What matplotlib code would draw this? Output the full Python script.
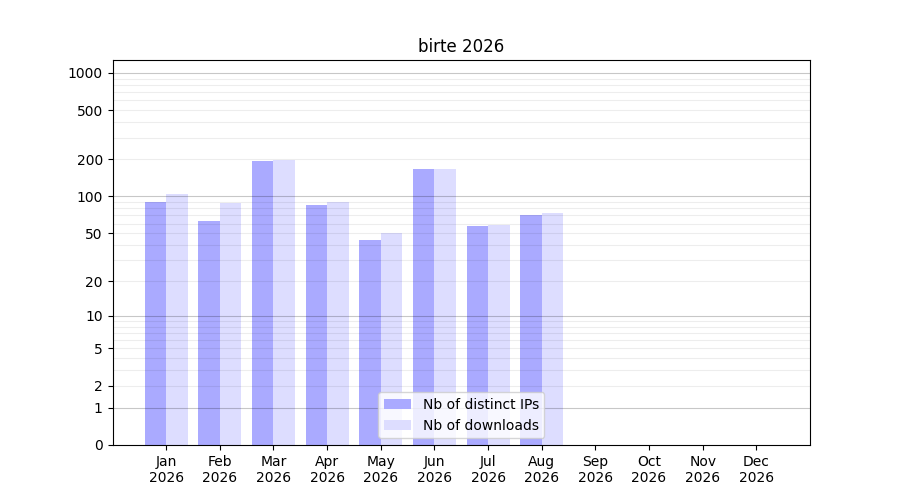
import numpy as np
import matplotlib
matplotlib.use("Agg")
import matplotlib.pyplot as plt

months = ["Jan", "Feb", "Mar", "Apr", "May", "Jun", "Jul", "Aug", "Sep", "Oct", "Nov", "Dec"]
year = "2026"
distinct_ips = [90, 63, 195, 85, 44, 168, 57, 70]
downloads = [105, 88, 198, 90, 50, 168, 58, 73]
ytick_values = [0, 1, 2, 5, 10, 20, 50, 100, 200, 500, 1000]


def fwd(v):
    return np.log10(1 + np.clip(v, 0, None))


def inv(v):
    return 10 ** v - 1


fig, ax = plt.subplots(figsize=(9, 5), dpi=100)
ax.set_yscale("function", functions=(fwd, inv))

x = np.arange(len(distinct_ips))
ax.bar(x - 0.2, distinct_ips, width=0.4, color="#aaaaff", label="Nb of distinct IPs", zorder=1)
ax.bar(x + 0.2, downloads, width=0.4, color="#ddddff", label="Nb of downloads", zorder=1)

# grid lines like on a log scale, major at decades (transparent so they show on bars)
for dec in [1, 10, 100, 1000]:
    ax.axhline(dec, color="black", alpha=0.22, lw=0.8, zorder=2)
    if dec < 1000:
        for k in range(2, 10):
            ax.axhline(dec * k, color="black", alpha=0.07, lw=0.8, zorder=2)

ax.set_yticks(ytick_values)
ax.set_yticklabels([str(v) for v in ytick_values])
ax.set_ylim(0, 1270)

ax.set_xticks(np.arange(len(months)))
ax.set_xticklabels([f"{m}\n{year}" for m in months])
ax.set_xlim(-1, 12)

ax.set_title(f"birte {year}")
ax.legend(loc="lower center")

fig.savefig("out.png")
